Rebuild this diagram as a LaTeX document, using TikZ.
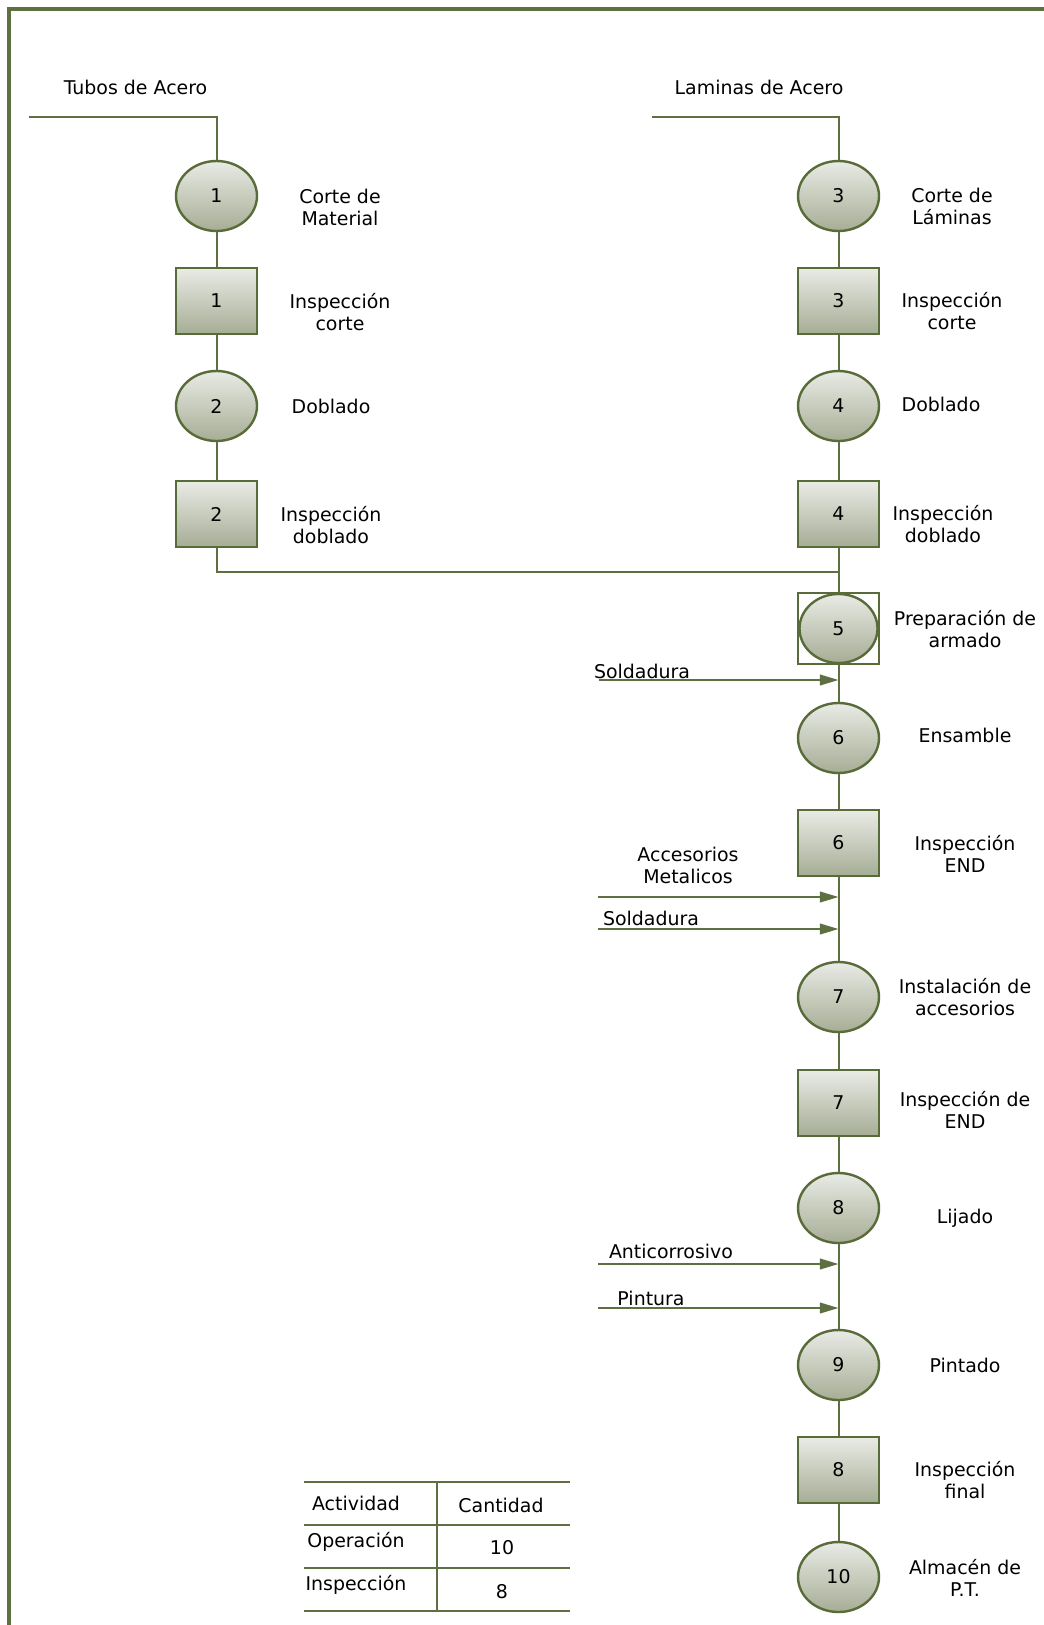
\documentclass[tikz,border=0pt]{standalone}
\usepackage{fontspec}
\setmainfont{DejaVu Sans}
\usetikzlibrary{shapes.geometric,arrows.meta}

\definecolor{olive}{HTML}{5E7042}
\definecolor{edge}{HTML}{5A6B3A}
\definecolor{filltop}{HTML}{E9EBE5}
\definecolor{fillbot}{HTML}{A6AD95}

\tikzset{
  txt/.style={font=\fontsize{14.2}{16.5}\selectfont, align=center, inner sep=0pt},
  opnode/.style={ellipse, draw=edge, line width=1.8pt, top color=filltop, bottom color=fillbot,
    minimum width=60.75pt, minimum height=52.5pt, inner sep=0pt, font=\fontsize{14.2}{16}\selectfont},
  insnode/.style={rectangle, draw=edge, line width=1.8pt, top color=filltop, bottom color=fillbot,
    minimum width=60.75pt, minimum height=49.5pt, inner sep=0pt, font=\fontsize{14.2}{16}\selectfont},
  flow/.style={draw=olive, line width=1.5pt},
  feed/.style={draw=olive, line width=1.4pt, -{Triangle[length=14pt,width=8pt]}},
  rule/.style={draw=olive, line width=1.4pt}
}

\begin{document}
\begin{tikzpicture}[x=0.75pt,y=-0.75pt]
\useasboundingbox (0,0) rectangle (1044,1625);
\fill[white] (0,0) rectangle (1044,1625);

% frame
\draw[olive, line width=3pt] (9,1625) -- (9,9) -- (1044,9);

% raw material inputs
\node[txt] (tubos) at (135.5,87) {Tubos de Acero};
\node[txt] (laminas) at (759,87) {Laminas de Acero};
\coordinate (tubosIn) at (29,117);
\coordinate (tubosCorner) at (216.5,117);
\coordinate (lamIn) at (652,117);
\coordinate (lamCorner) at (838.5,117);

% left column: tubes
\node[opnode] (op1) at (216.5,196) {1};
\node[insnode] (in1) at (216.5,301) {1};
\node[opnode] (op2) at (216.5,406) {2};
\node[insnode] (in2) at (216.5,514) {2};

% right column: sheets and main line
\node[opnode] (op3) at (838.5,196) {3};
\node[insnode] (in3) at (838.5,301) {3};
\node[opnode] (op4) at (838.5,406) {4};
\node[insnode] (in4) at (838.5,514) {4};
\node[rectangle, draw=edge, line width=1.3pt, minimum width=60.75pt, minimum height=53.25pt, inner sep=0pt]
  (box5) at (838.5,628.5) {};
\node[opnode, minimum width=58.5pt, minimum height=51.75pt] (op5) at (838.5,628.5) {5};
\node[opnode] (op6) at (838.5,738) {6};
\node[insnode] (in6) at (838.5,843) {6};
\node[opnode] (op7) at (838.5,997) {7};
\node[insnode] (in7) at (838.5,1103) {7};
\node[opnode] (op8) at (838.5,1208) {8};
\node[opnode] (op9) at (838.5,1365) {9};
\node[insnode] (in8) at (838.5,1470) {8};
\node[opnode] (op10) at (838.5,1577) {10};

% step descriptions
\node[txt] at (340,207) {Corte de\\Material};
\node[txt] at (340,312) {Inspección\\corte};
\node[txt] at (331,406) {Doblado};
\node[txt] at (331,525) {Inspección\\doblado};
\node[txt] at (952,206) {Corte de\\Láminas};
\node[txt] at (952,311) {Inspección\\corte};
\node[txt] at (941,404) {Doblado};
\node[txt] at (943,524) {Inspección\\doblado};
\node[txt] at (965,629) {Preparación de\\armado};
\node[txt] at (965,735) {Ensamble};
\node[txt] at (965,854) {Inspección\\END};
\node[txt] at (965,997) {Instalación de\\accesorios};
\node[txt] at (965,1110) {Inspección de\\END};
\node[txt] at (965,1218) {Lijado};
\node[txt] at (965,1365) {Pintado};
\node[txt] at (965,1480) {Inspección\\final};
\node[txt] at (965,1578) {Almacén de\\P.T.};

% process flow
\draw[flow] (tubosIn) -- (tubosCorner) -- (op1);
\draw[flow] (op1) -- (in1);
\draw[flow] (in1) -- (op2);
\draw[flow] (op2) -- (in2);
\coordinate (join) at (838.5,572);
\draw[flow] (in2.south) |- (join);
\draw[flow] (lamIn) -- (lamCorner) -- (op3);
\draw[flow] (op3) -- (in3);
\draw[flow] (in3) -- (op4);
\draw[flow] (op4) -- (in4);
\draw[flow] (in4) -- (box5);
\draw[flow] (box5) -- (op6);
\draw[flow] (op6) -- (in6);
\draw[flow] (in6) -- (op7);
\draw[flow] (op7) -- (in7);
\draw[flow] (in7) -- (op8);
\draw[flow] (op8) -- (op9);
\draw[flow] (op9) -- (in8);
\draw[flow] (in8) -- (op10);

% material feeds
\node[txt] (fSold1) at (642,671) {Soldadura};
\coordinate (s1a) at (599,680); \coordinate (s1b) at (838.5,680);
\draw[feed] (s1a) -- (s1b);

\node[txt] (fAcc) at (688,865) {Accesorios\\Metalicos};
\coordinate (a1a) at (598,897); \coordinate (a1b) at (838.5,897);
\draw[feed] (a1a) -- (a1b);

\node[txt] (fSold2) at (651,918) {Soldadura};
\coordinate (s2a) at (598,929); \coordinate (s2b) at (838.5,929);
\draw[feed] (s2a) -- (s2b);

\node[txt] (fAnti) at (671,1251) {Anticorrosivo};
\coordinate (c1a) at (598,1264); \coordinate (c1b) at (838.5,1264);
\draw[feed] (c1a) -- (c1b);

\node[txt] (fPint) at (651,1298) {Pintura};
\coordinate (p1a) at (598,1308); \coordinate (p1b) at (838.5,1308);
\draw[feed] (p1a) -- (p1b);

% summary table
\draw[rule] (304,1482) -- (570,1482);
\draw[rule] (304,1525) -- (570,1525);
\draw[rule] (304,1568) -- (570,1568);
\draw[rule] (304,1611) -- (570,1611);
\draw[rule] (437,1482) -- (437,1611);
\node[txt] (tA) at (356,1503) {Actividad};
\node[txt] (tC) at (501,1505) {Cantidad};
\node[txt] (tO) at (356,1542) {Operación};
\node[txt] (tOn) at (502,1548) {10};
\node[txt] (tI) at (356,1585) {Inspección};
\node[txt] (tIn) at (502,1592) {8};
\end{tikzpicture}
\end{document}
